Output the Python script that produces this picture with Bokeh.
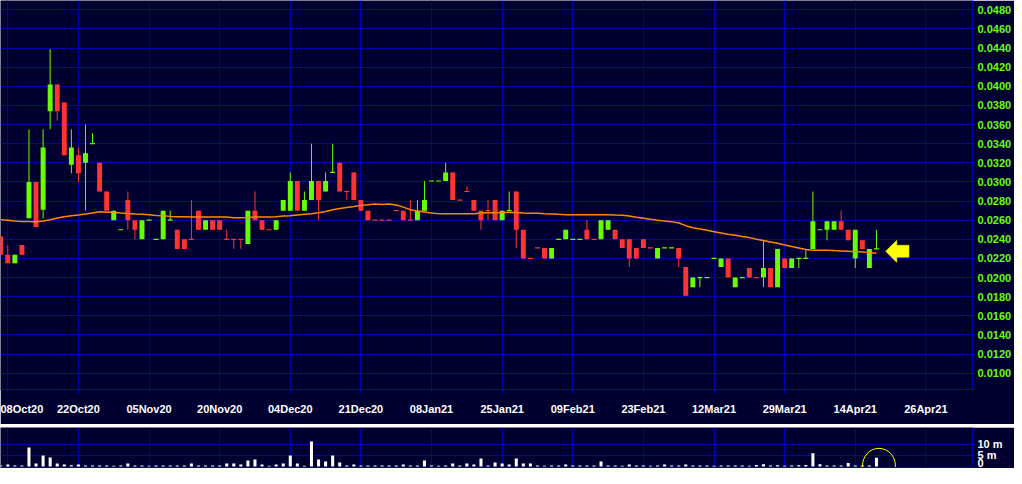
from bokeh.plotting import figure
from bokeh.layouts import column
from bokeh.models import ColumnDataSource, FixedTicker, Range1d, CustomJSTickFormatter
from bokeh.embed import file_html
from bokeh.resources import INLINE

# ---------------- data ----------------
bars = list(range(-1, 124))  # trading-day index, 0 = 08Oct20

opens = [
    0.0243,
    0.0224, 0.0215, 0.0234, 0.0262, 0.0300, 0.0271, 0.0374, 0.0402, 0.0383, 0.0318,
    0.0328, 0.0320, 0.0340, 0.0320, 0.0290, 0.0260, 0.0250, 0.0281, 0.0260, 0.0240,
    0.0260, 0.0240, 0.0240, 0.0260, 0.0250, 0.0240, 0.0240, 0.0270, 0.0250, 0.0260,
    0.0260, 0.0240, 0.0240, 0.0240, 0.0235, 0.0270, 0.0260, 0.0250, 0.0250, 0.0270,
    0.0270, 0.0301, 0.0270, 0.0281, 0.0301, 0.0290, 0.0310, 0.0320, 0.0290, 0.0310,
    0.0281, 0.0270, 0.0260, 0.0260, 0.0260, 0.0270, 0.0270, 0.0260, 0.0260, 0.0270,
    0.0301, 0.0301, 0.0301, 0.0310, 0.0281, 0.0290, 0.0281, 0.0270, 0.0270, 0.0281,
    0.0260, 0.0270, 0.0290, 0.0250, 0.0220, 0.0231, 0.0231, 0.0220, 0.0240, 0.0240,
    0.0240, 0.0240, 0.0250, 0.0240, 0.0240, 0.0250, 0.0250, 0.0240, 0.0240, 0.0231,
    0.0240, 0.0231, 0.0220, 0.0231, 0.0231, 0.0231, 0.0211, 0.0190, 0.0200, 0.0200,
    0.0220, 0.0211, 0.0220, 0.0190, 0.0200, 0.0210, 0.0200, 0.0200, 0.0210, 0.0190,
    0.0220, 0.0210, 0.0220, 0.0220, 0.0230, 0.0250, 0.0250, 0.0250, 0.0259, 0.0250,
    0.0220, 0.0239, 0.0210, 0.0230,
]
highs = [
    0.0243,
    0.0234, 0.0224, 0.0234, 0.0355, 0.0300, 0.0355, 0.0439, 0.0402, 0.0383, 0.0355,
    0.0336, 0.0360, 0.0351, 0.0320, 0.0290, 0.0270, 0.0250, 0.0290, 0.0260, 0.0260,
    0.0260, 0.0240, 0.0270, 0.0270, 0.0250, 0.0240, 0.0281, 0.0270, 0.0260, 0.0260,
    0.0260, 0.0250, 0.0240, 0.0240, 0.0270, 0.0290, 0.0260, 0.0250, 0.0260, 0.0281,
    0.0310, 0.0301, 0.0290, 0.0340, 0.0301, 0.0310, 0.0340, 0.0320, 0.0290, 0.0310,
    0.0281, 0.0270, 0.0260, 0.0260, 0.0260, 0.0270, 0.0270, 0.0281, 0.0281, 0.0301,
    0.0301, 0.0301, 0.0320, 0.0310, 0.0281, 0.0295, 0.0281, 0.0270, 0.0281, 0.0281,
    0.0270, 0.0290, 0.0290, 0.0250, 0.0220, 0.0231, 0.0231, 0.0231, 0.0240, 0.0250,
    0.0240, 0.0240, 0.0260, 0.0240, 0.0260, 0.0260, 0.0250, 0.0240, 0.0240, 0.0231,
    0.0240, 0.0231, 0.0231, 0.0231, 0.0231, 0.0231, 0.0211, 0.0200, 0.0200, 0.0200,
    0.0220, 0.0220, 0.0220, 0.0200, 0.0200, 0.0210, 0.0200, 0.0239, 0.0210, 0.0230,
    0.0220, 0.0220, 0.0220, 0.0230, 0.0290, 0.0250, 0.0259, 0.0259, 0.0270, 0.0250,
    0.0250, 0.0239, 0.0230, 0.0250,
]
lows = [
    0.0224,
    0.0215, 0.0215, 0.0224, 0.0262, 0.0253, 0.0262, 0.0355, 0.0364, 0.0328, 0.0309,
    0.0300, 0.0270, 0.0340, 0.0290, 0.0270, 0.0260, 0.0250, 0.0250, 0.0240, 0.0240,
    0.0260, 0.0240, 0.0240, 0.0260, 0.0230, 0.0230, 0.0240, 0.0250, 0.0250, 0.0250,
    0.0250, 0.0240, 0.0230, 0.0230, 0.0235, 0.0260, 0.0250, 0.0250, 0.0250, 0.0270,
    0.0270, 0.0270, 0.0270, 0.0281, 0.0260, 0.0290, 0.0310, 0.0290, 0.0281, 0.0281,
    0.0270, 0.0260, 0.0260, 0.0260, 0.0260, 0.0270, 0.0260, 0.0260, 0.0260, 0.0270,
    0.0301, 0.0301, 0.0301, 0.0281, 0.0281, 0.0290, 0.0270, 0.0250, 0.0260, 0.0260,
    0.0260, 0.0270, 0.0231, 0.0220, 0.0220, 0.0231, 0.0220, 0.0220, 0.0240, 0.0240,
    0.0240, 0.0240, 0.0240, 0.0240, 0.0240, 0.0250, 0.0240, 0.0231, 0.0211, 0.0220,
    0.0231, 0.0231, 0.0220, 0.0231, 0.0231, 0.0211, 0.0181, 0.0190, 0.0190, 0.0200,
    0.0220, 0.0211, 0.0200, 0.0190, 0.0200, 0.0200, 0.0200, 0.0190, 0.0190, 0.0190,
    0.0210, 0.0210, 0.0210, 0.0220, 0.0230, 0.0250, 0.0239, 0.0250, 0.0250, 0.0239,
    0.0210, 0.0230, 0.0210, 0.0230,
]
closes = [
    0.0224,
    0.0215, 0.0224, 0.0224, 0.0300, 0.0253, 0.0336, 0.0402, 0.0374, 0.0328, 0.0336,
    0.0309, 0.0330, 0.0340, 0.0290, 0.0270, 0.0270, 0.0250, 0.0260, 0.0250, 0.0260,
    0.0260, 0.0240, 0.0270, 0.0260, 0.0230, 0.0230, 0.0240, 0.0250, 0.0260, 0.0250,
    0.0250, 0.0240, 0.0240, 0.0240, 0.0270, 0.0260, 0.0250, 0.0250, 0.0260, 0.0281,
    0.0301, 0.0270, 0.0281, 0.0301, 0.0281, 0.0301, 0.0310, 0.0290, 0.0290, 0.0281,
    0.0270, 0.0260, 0.0260, 0.0260, 0.0260, 0.0270, 0.0260, 0.0260, 0.0270, 0.0281,
    0.0301, 0.0301, 0.0310, 0.0281, 0.0281, 0.0290, 0.0270, 0.0260, 0.0270, 0.0260,
    0.0270, 0.0270, 0.0250, 0.0220, 0.0220, 0.0231, 0.0220, 0.0231, 0.0240, 0.0250,
    0.0240, 0.0240, 0.0240, 0.0240, 0.0260, 0.0260, 0.0240, 0.0231, 0.0220, 0.0220,
    0.0231, 0.0231, 0.0231, 0.0231, 0.0231, 0.0220, 0.0181, 0.0200, 0.0200, 0.0200,
    0.0220, 0.0220, 0.0200, 0.0200, 0.0200, 0.0200, 0.0200, 0.0210, 0.0190, 0.0230,
    0.0210, 0.0220, 0.0220, 0.0220, 0.0259, 0.0250, 0.0259, 0.0259, 0.0250, 0.0239,
    0.0250, 0.0230, 0.0230, 0.0230,
]
# 1 = green (up) candle, 0 = red (down) candle
up_flags = [
    0,
    0, 1, 0, 1, 0, 1, 1, 0, 0, 1,
    0, 1, 1, 0, 0, 1, 1, 0, 0, 1,
    1, 1, 1, 1, 0, 0, 0, 0, 1, 0,
    0, 0, 0, 0, 1, 0, 0, 0, 1, 1,
    1, 0, 1, 1, 0, 1, 1, 0, 0, 0,
    0, 0, 0, 0, 0, 0, 0, 0, 1, 1,
    1, 1, 1, 0, 0, 0, 0, 0, 0, 0,
    1, 1, 0, 0, 0, 0, 0, 1, 1, 1,
    1, 1, 0, 0, 1, 1, 0, 0, 0, 0,
    0, 0, 1, 1, 1, 0, 0, 1, 1, 1,
    1, 1, 0, 1, 1, 0, 0, 1, 0, 1,
    0, 1, 1, 1, 1, 1, 1, 1, 0, 0,
    1, 0, 1, 1,
]
moving_avg = [
    0.02605,
    0.02600, 0.02591, 0.02587, 0.02587, 0.02584, 0.02591, 0.02605, 0.02622, 0.02636, 0.02647,
    0.02654, 0.02664, 0.02675, 0.02689, 0.02682, 0.02682, 0.02675, 0.02671, 0.02664, 0.02661,
    0.02657, 0.02650, 0.02647, 0.02640, 0.02636, 0.02636, 0.02633, 0.02633, 0.02633, 0.02633,
    0.02633, 0.02633, 0.02626, 0.02626, 0.02629, 0.02633, 0.02633, 0.02633, 0.02636, 0.02643,
    0.02647, 0.02654, 0.02661, 0.02668, 0.02678, 0.02692, 0.02709, 0.02723, 0.02734, 0.02744,
    0.02755, 0.02762, 0.02769, 0.02765, 0.02769, 0.02758, 0.02737, 0.02709, 0.02695, 0.02685,
    0.02675, 0.02668, 0.02668, 0.02668, 0.02668, 0.02668, 0.02668, 0.02675, 0.02678, 0.02678,
    0.02680, 0.02680, 0.02680, 0.02675, 0.02672, 0.02672, 0.02668, 0.02665, 0.02661, 0.02658,
    0.02658, 0.02658, 0.02658, 0.02658, 0.02658, 0.02658, 0.02654, 0.02651, 0.02644, 0.02630,
    0.02620, 0.02609, 0.02599, 0.02592, 0.02585, 0.02571, 0.02543, 0.02522, 0.02508, 0.02494,
    0.02480, 0.02466, 0.02452, 0.02442, 0.02429, 0.02418, 0.02401, 0.02387, 0.02373, 0.02359,
    0.02341, 0.02324, 0.02310, 0.02293, 0.02286, 0.02286, 0.02286, 0.02282, 0.02279, 0.02275,
    0.02272, 0.02268, 0.02261, 0.02254,
]
volume_m = [
    0.45,
    0.9, 0.45, 0.45, 8.6, 1.4, 5.0, 4.1, 1.4, 0.9, 0.6,
    0.9, 0.45, 0.45, 0.45, 0.45, 0.3, 0.45, 1.4, 0.45, 0.45,
    0.3, 0.45, 0.45, 0.45, 0.45, 0.45, 1.4, 0.45, 0.45, 0.45,
    0.45, 1.4, 1.4, 0.9, 2.7, 3.2, 0.9, 0.35, 0.9, 1.4,
    5.0, 1.4, 0.35, 11.4, 3.2, 2.3, 5.0, 1.8, 0.45, 0.9,
    0.45, 0.45, 0.45, 0.45, 0.45, 0.45, 0.9, 0.45, 0.45, 2.7,
    0.45, 0.3, 0.45, 1.4, 0.45, 1.4, 0.9, 3.6, 0.45, 1.8,
    1.4, 0.9, 3.6, 1.4, 1.4, 0.45, 0.35, 0.45, 0.45, 0.9,
    0.45, 0.45, 0.45, 0.45, 2.3, 0.45, 0.45, 0.3, 0.9, 0.45,
    0.45, 0.3, 0.45, 0.9, 0.45, 0.45, 0.9, 0.45, 0.45, 0.45,
    0.35, 0.45, 0.45, 0.45, 0.45, 0.35, 0.7, 1.0, 0.45, 0.6,
    0.3, 0.45, 0.6, 0.7, 6.0, 1.0, 0.45, 0.45, 0.45, 1.6,
    0.45, 0.45, 0.45, 4.0,
]
date_ticks = [0, 10, 20, 30, 40, 50, 60, 70, 80, 90, 100, 110, 120, 130]
date_labels = ["08Oct20", "22Oct20", "05Nov20", "20Nov20", "04Dec20", "21Dec20", "08Jan21",
               "25Jan21", "09Feb21", "23Feb21", "12Mar21", "29Mar21", "14Apr21", "26Apr21"]
price_ticks = [0.0100, 0.0120, 0.0140, 0.0160, 0.0180, 0.0200, 0.0220, 0.0240, 0.0260, 0.0280,
               0.0300, 0.0320, 0.0340, 0.0360, 0.0380, 0.0400, 0.0420, 0.0440, 0.0460, 0.0480]
volume_ticks = [0, 5, 10]

# ---------------- styling ----------------
BG = "#000030"
GRID = "#0000b0"
UP = "#66ff00"
DOWN = "#ff3333"
MA_COL = "#ff8800"
YEL = "#ffff00"
FONT = "Liberation Sans"
W = 1014          # frame 973 px + 41 px for the right-hand labels
RIGHT = 41
X0, X1 = -1.033, 136.6

colors = [UP if u else DOWN for u in up_flags]

src_all = ColumnDataSource(dict(x=bars, o=opens, h=highs, l=lows, c=closes, col=colors))
body = [i for i in range(len(bars)) if opens[i] != closes[i]]
doji = [i for i in range(len(bars)) if opens[i] == closes[i]]
src_body = ColumnDataSource(dict(
    x=[bars[i] for i in body],
    top=[max(opens[i], closes[i]) for i in body],
    bottom=[min(opens[i], closes[i]) for i in body],
    col=[colors[i] for i in body]))
half_w = 0.35
src_doji = ColumnDataSource(dict(
    x0=[bars[i] - half_w for i in doji], x1=[bars[i] + half_w for i in doji],
    y=[closes[i] for i in doji], col=[colors[i] for i in doji]))

xr = Range1d(X0, X1)

# ---------------- price panel ----------------
p = figure(width=W, height=424, x_range=xr, y_range=Range1d(0.00830, 0.04897),
           output_backend="svg", toolbar_location=None, y_axis_location="right",
           background_fill_color=BG, border_fill_color=BG,
           min_border_left=0, min_border_top=0, min_border_right=RIGHT, min_border_bottom=35)
p.outline_line_color = None
p.grid.grid_line_color = GRID
p.grid.grid_line_width = 1

p.yaxis.ticker = FixedTicker(ticks=price_ticks)
p.yaxis.formatter = CustomJSTickFormatter(code="return tick.toFixed(4);")
p.yaxis.major_label_text_color = UP
p.yaxis.major_label_text_font = FONT
p.yaxis.major_label_text_font_style = "bold"
p.yaxis.major_label_text_font_size = "11px"
p.yaxis.major_label_standoff = 5
p.yaxis.axis_line_color = GRID
p.yaxis.major_tick_out = 0
p.yaxis.major_tick_in = 0
p.yaxis.minor_tick_line_color = None

p.xaxis.ticker = FixedTicker(ticks=date_ticks)
p.xaxis.formatter = CustomJSTickFormatter(args=dict(labels=date_labels),
                                          code="const i = Math.round(tick / 10); return labels[i] || '';")
p.xaxis.major_label_text_color = "white"
p.xaxis.major_label_text_font = FONT
p.xaxis.major_label_text_font_style = "bold"
p.xaxis.major_label_text_font_size = "11px"
p.xaxis.major_label_standoff = 9
p.xaxis.axis_line_color = GRID
p.xaxis.major_tick_line_color = GRID
p.xaxis.major_tick_out = 4
p.xaxis.major_tick_in = 0
p.xaxis.minor_tick_line_color = None

p.segment(x0="x", y0="l", x1="x", y1="h", source=src_all, line_color="col", line_width=1)
p.vbar(x="x", top="top", bottom="bottom", width=2 * half_w, source=src_body,
       fill_color="col", line_color=None)
p.segment(x0="x0", y0="y", x1="x1", y1="y", source=src_doji, line_color="col", line_width=1.2)
p.line(bars, moving_avg, line_color=MA_COL, line_width=1.5)

# yellow arrow pointing at the last close
tip_x = bars[-1] + 1.3
cy = closes[-1] - 0.00025
head_len, tail_len = 1.58, 3.3
head_h, shaft_h = 0.00116, 0.00063
p.patch([tip_x, tip_x + head_len, tip_x + head_len, tip_x + tail_len, tip_x + tail_len,
         tip_x + head_len, tip_x + head_len],
        [cy, cy + head_h, cy + shaft_h, cy + shaft_h, cy - shaft_h, cy - shaft_h, cy - head_h],
        fill_color=YEL, line_color=YEL, line_width=0.5)

# ---------------- volume panel ----------------
v = figure(width=W, height=41, x_range=xr, y_range=Range1d(-0.45, 17.7),
           output_backend="svg", toolbar_location=None, y_axis_location="right",
           background_fill_color=BG, border_fill_color=BG,
           min_border_left=0, min_border_top=0, min_border_right=RIGHT, min_border_bottom=1)
v.outline_line_color = None
v.grid.grid_line_color = GRID
v.xgrid.ticker = FixedTicker(ticks=date_ticks)
v.ygrid.ticker = FixedTicker(ticks=[5, 10])
v.xaxis.ticker = FixedTicker(ticks=[])
v.xaxis.major_label_standoff = 0
v.xaxis.major_tick_out = 0
v.xaxis.major_tick_in = 0
v.xaxis.minor_tick_line_color = None
v.xaxis.axis_line_color = GRID

v.yaxis.ticker = FixedTicker(ticks=volume_ticks)
v.yaxis.formatter = CustomJSTickFormatter(code="return tick == 0 ? '0' : tick + ' m';")
v.yaxis.major_label_text_color = "white"
v.yaxis.major_label_text_font = FONT
v.yaxis.major_label_text_font_style = "bold"
v.yaxis.major_label_text_font_size = "11px"
v.yaxis.major_label_standoff = 5
v.yaxis.axis_line_color = GRID
v.yaxis.major_tick_out = 0
v.yaxis.major_tick_in = 0
v.yaxis.minor_tick_line_color = None

v.vbar(x=bars, top=volume_m, bottom=0, width=0.43, fill_color="white", line_color=None)
v.ellipse(x=[bars[-1] + 0.35], y=[0.3], width=33, height=35,
          width_units="screen", height_units="screen",
          fill_color=None, line_color=YEL, line_width=1)

layout = column(p, v, spacing=3)
open("out.html", "w").write(file_html(layout, INLINE))
